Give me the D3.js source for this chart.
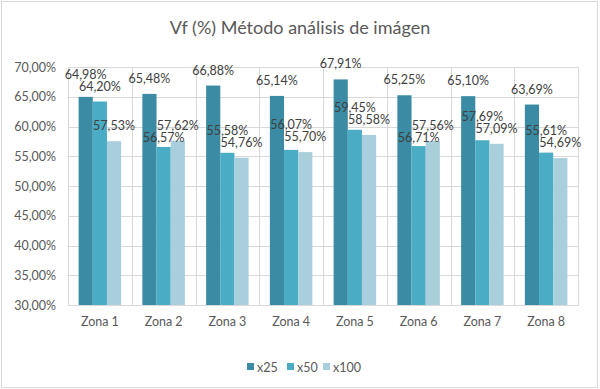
<!DOCTYPE html>
<html><head><meta charset="utf-8">
<script src="https://cdn.jsdelivr.net/npm/d3@7"></script>
<style>
html,body{margin:0;padding:0;background:#fff;}
svg{display:block;font-family:Lato,"Open Sans",sans-serif;}
</style></head>
<body><svg id="c" width="600" height="389"></svg>
<script>
const title = "Vf (%) Método análisis de imágen";
const categories = ["Zona 1","Zona 2","Zona 3","Zona 4","Zona 5","Zona 6","Zona 7","Zona 8"];
const seriesNames = ["x25","x50","x100"];
const x25 = [64.98,65.48,66.88,65.14,67.91,65.25,65.10,63.69];
const x50 = [64.20,56.57,55.58,56.07,59.45,56.71,57.69,55.61];
const x100 = [57.53,57.62,54.76,55.70,58.58,57.56,57.09,54.69];
const colors = ["#3A8BA3","#4BACC6","#A9CFDD"];
const yTicks = [30,35,40,45,50,55,60,65,70];

const series = [x25,x50,x100];
const svg = d3.select("#c");
const fmt = v => d3.format(".2f")(v).replace(".", ",") + "%";

// chart border
svg.append("rect").attr("x",1.5).attr("y",1.5).attr("width",596).attr("height",386)
  .attr("fill","#fff").attr("stroke","#d9d9d9").attr("stroke-width",1);

const L = 68, R = 578, T = 67, B = 305;
const x = d3.scaleBand().domain(categories).range([L,R]).paddingInner(0).paddingOuter(0);
const inner = d3.scaleBand().domain(seriesNames).range([0, x.bandwidth()]).paddingInner(0).paddingOuter(0.75);
const y = d3.scaleLinear().domain([30,70]).range([B,T]);

// title
svg.append("text").attr("x",300).attr("y",34).attr("text-anchor","middle")
  .attr("font-size",18).attr("fill","#595959").text(title);

// horizontal gridlines
svg.append("g").selectAll("line").data(yTicks).join("line")
  .attr("x1",L).attr("x2",R).attr("y1",d=>Math.round(y(d))+0.5).attr("y2",d=>Math.round(y(d))+0.5)
  .attr("stroke","#d9d9d9");
// vertical gridlines
const vb = categories.map(c=>x(c)).concat([R]);
svg.append("g").selectAll("line").data(vb).join("line")
  .attr("x1",d=>Math.round(d)+0.5).attr("x2",d=>Math.round(d)+0.5).attr("y1",T).attr("y2",B)
  .attr("stroke","#d9d9d9");

// y axis
const yAxis = d3.axisLeft(y).tickValues(yTicks).tickSize(0).tickPadding(12)
  .tickFormat(d=>d3.format(".2f")(d).replace(".",",")+"%");
const ga = svg.append("g").attr("transform",`translate(${L},0)`).call(yAxis);
ga.select(".domain").remove();
ga.selectAll("text").attr("font-size",12.5).attr("fill","#595959").attr("font-family","Lato,'Open Sans',sans-serif");

// x axis
const xAxis = d3.axisBottom(x).tickSize(0).tickPadding(12);
const gx = svg.append("g").attr("transform",`translate(0,${B})`).call(xAxis);
gx.select(".domain").attr("stroke","#d9d9d9");
gx.selectAll("text").attr("font-size",12.5).attr("fill","#595959").attr("font-family","Lato,'Open Sans',sans-serif");

// bars
const bars = [];
categories.forEach((c,i)=>{
  seriesNames.forEach((s,j)=>{
    bars.push({c, s, j, v: series[j][i]});
  });
});
svg.append("g").selectAll("rect").data(bars).join("rect")
  .attr("x",d=>x(d.c)+inner(d.s)).attr("width",inner.bandwidth())
  .attr("y",d=>y(d.v)).attr("height",d=>B-y(d.v))
  .attr("fill",d=>colors[d.j]);

// labels with simple overlap avoidance
const labels = [];
const GAP = 12;
categories.forEach((c,i)=>{
  const grp = seriesNames.map((s,j)=>({c,s,j,v:series[j][i],
    cx: x(c)+inner(s)+inner.bandwidth()/2, yb: y(series[j][i]) - 11}));
  for (let k=grp.length-1;k>0;k--){
    const a = grp[k-1], b = grp[k];
    if (Math.abs(a.yb-b.yb) < GAP) {
      if (a.yb <= b.yb) a.yb = b.yb - GAP; else a.yb = b.yb + GAP;
    }
  }
  labels.push(...grp);
});
svg.append("g").selectAll("text").data(labels).join("text")
  .attr("x",d=>d.cx).attr("y",d=>d.yb).attr("text-anchor","middle")
  .attr("font-size",12.5).attr("fill","#404040").text(d=>fmt(d.v));

// legend
const lg = svg.append("g");
const legX = [247,287,323];
seriesNames.forEach((s,j)=>{
  const g = lg.append("g");
  g.append("rect").attr("x",legX[j]).attr("y",363).attr("width",7).attr("height",7).attr("fill",colors[j]);
  g.append("text").attr("x",legX[j]+10).attr("y",371.5).attr("font-size",12.5).attr("fill","#595959").text(s);
});
</script></body></html>
